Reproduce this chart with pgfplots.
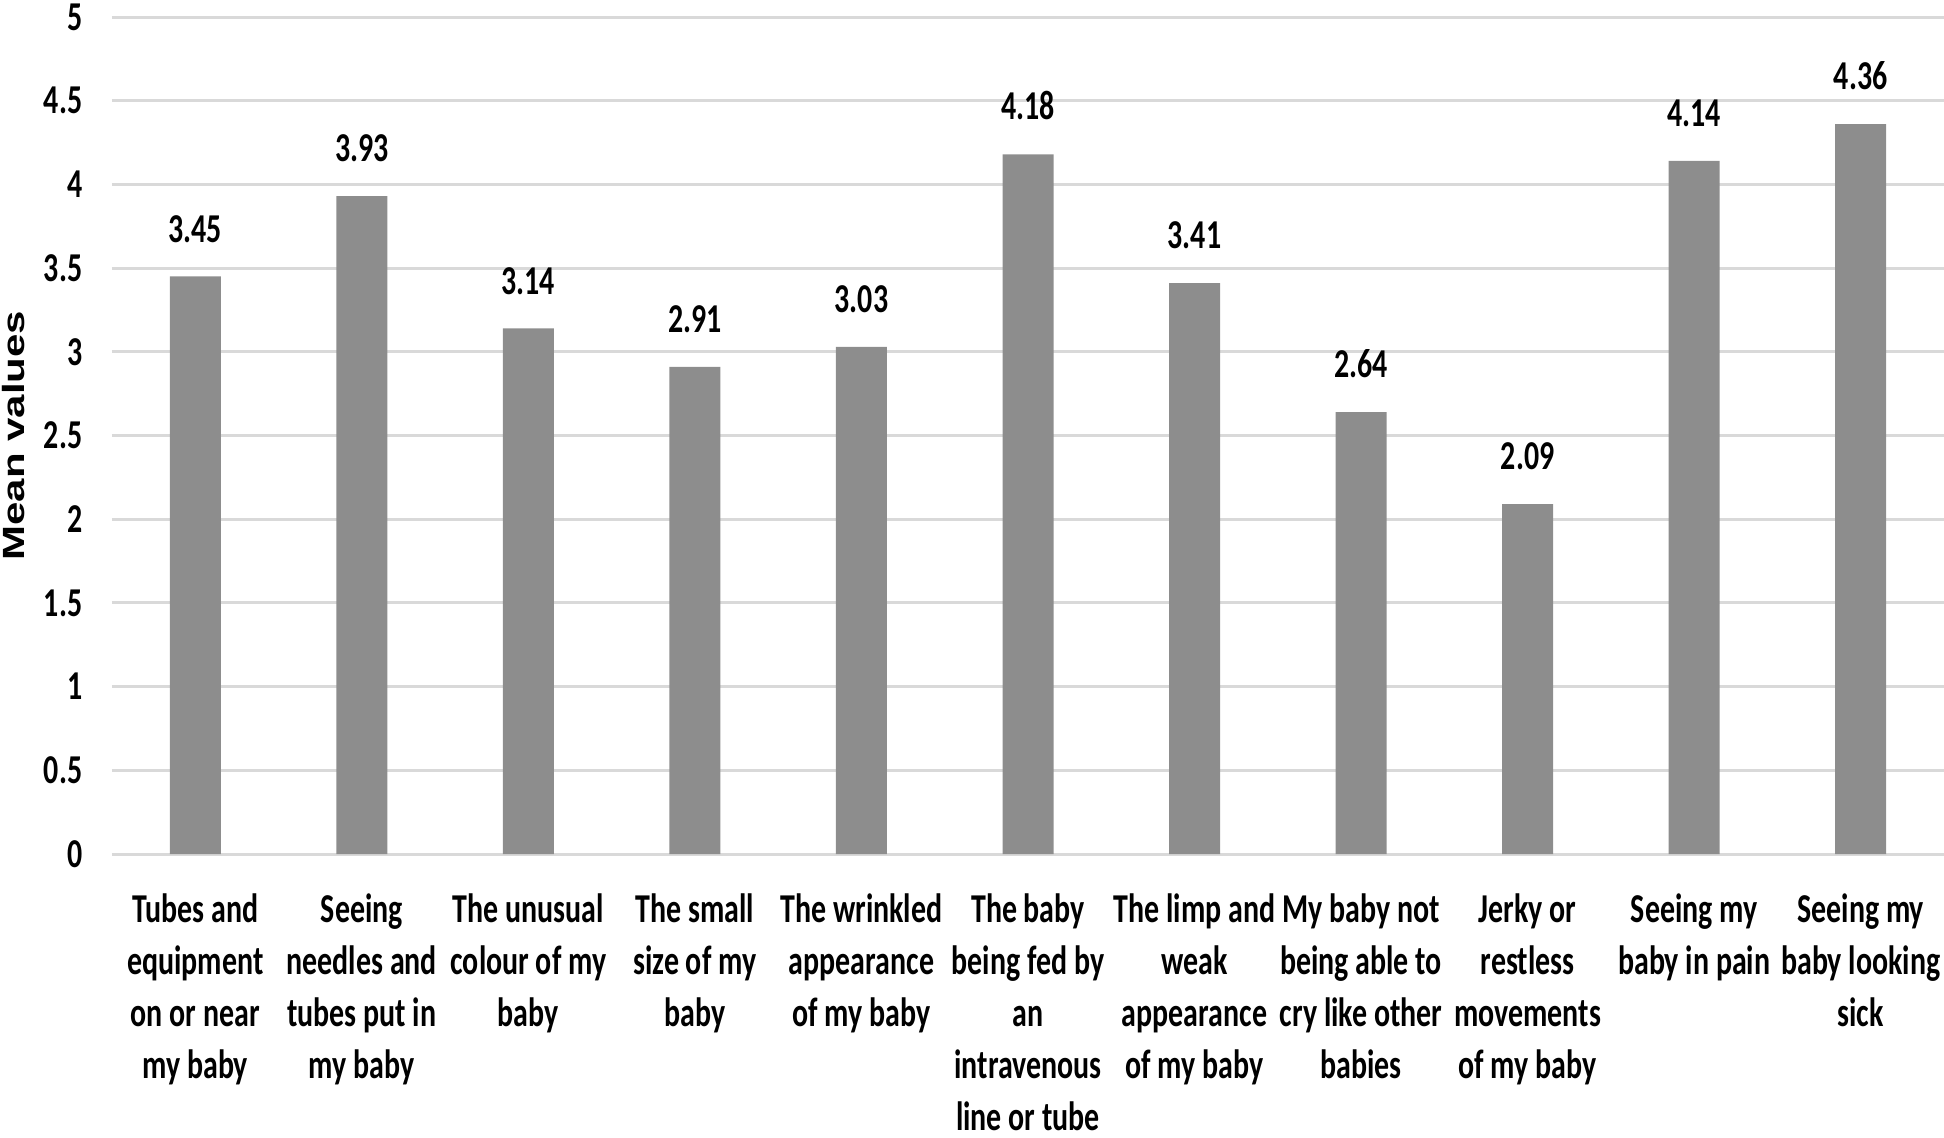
\documentclass[border=0pt]{standalone}
\usepackage{fontspec}
\usepackage{pgfplots}
\pgfplotsset{compat=1.18}
\usepackage{graphicx}
\newfontfamily\labfont[FakeStretch=0.73]{Carlito}
\newfontfamily\ylfont{Liberation Sans}
\definecolor{barc}{RGB}{141,141,141}
\definecolor{gridc}{RGB}{217,217,217}
\begin{document}
\begin{tikzpicture}
\begin{axis}[
  scale only axis,
  width=458bp, height=209.25bp,
  ybar, bar width=12.75bp, bar shift=0pt,
  xmin=-0.5, xmax=10.5,
  ymin=0, ymax=5,
  ytick={0,0.5,...,5},
  xtick={0,...,10},
  xticklabels={
    {Tubes and\\equipment\\on or near\\my baby},
    {Seeing\\needles and\\tubes put in\\my baby},
    {The unusual\\colour of my\\baby},
    {The small\\size of my\\baby},
    {The wrinkled\\appearance\\of my baby},
    {The baby\\being fed by\\an\\intravenous\\line or tube},
    {The limp and\\weak\\appearance\\of my baby},
    {My baby not\\being able to\\cry like other\\babies},
    {Jerky or\\restless\\movements\\of my baby},
    {Seeing my\\baby in pain},
    {Seeing my\\baby looking\\sick}},
  major tick length=0pt,
  axis line style={draw=none},
  ymajorgrids,
  grid style={draw=gridc, line width=0.75bp},
  /pgf/number format/assume math mode=true,
  yticklabel style={font=\labfont\bfseries\fontsize{10.25bp}{13bp}\selectfont, anchor=east, inner sep=0pt, xshift=-7.25bp},
  xticklabel style={font=\labfont\bfseries\fontsize{10.25bp}{13bp}\selectfont, align=center, anchor=north, inner sep=0pt, yshift=-9.7bp},
  ylabel={\scalebox{1}[0.73]{\ylfont\bfseries\fontsize{10.5bp}{12bp}\selectfont Mean values}},
  ylabel style={at={(axis description cs:0,0.5)}, anchor=center, yshift=24.5bp, inner sep=0pt},
  nodes near coords={\pgfmathprintnumber[fixed,fixed zerofill,precision=2]{\pgfplotspointmeta}},
  nodes near coords style={font=\labfont\bfseries\fontsize{10.25bp}{13bp}\selectfont, anchor=south, inner sep=0pt, yshift=8.3bp, text=black},
]
\addplot[fill=barc, draw=none] coordinates {
  (0,3.45) (1,3.93) (2,3.14) (3,2.91) (4,3.03) (5,4.18)
  (6,3.41) (7,2.64) (8,2.09) (9,4.14) (10,4.36)};
\end{axis}
\pgfresetboundingbox
\path[use as bounding box] (-28bp,-71bp) rectangle (458bp,213.5bp);
\end{tikzpicture}
\end{document}
